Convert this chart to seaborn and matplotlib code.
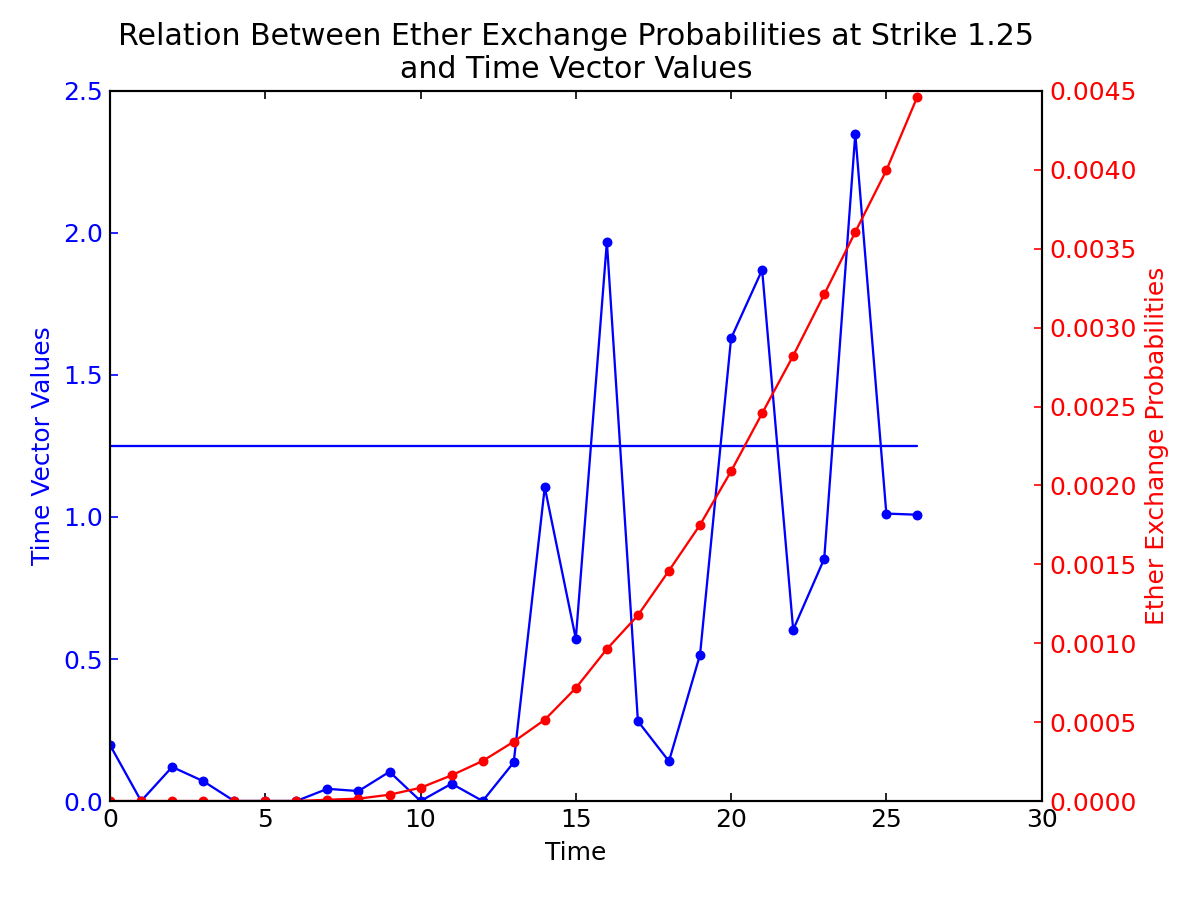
import numpy as np
import pandas as pd
import matplotlib
matplotlib.use('Agg')
import matplotlib.pyplot as plt
import seaborn as sns

# Data
time = list(range(27))
time_vector = [0.197, 0.0, 0.12, 0.07, 0.0, 0.0, 0.0, 0.043, 0.035, 0.103,
               0.0, 0.061, 0.0, 0.136, 1.105, 0.571, 1.969, 0.281, 0.14, 0.515,
               1.629, 1.870, 0.603, 0.853, 2.349, 1.012, 1.008]
ether_prob = [0.0, 0.0, 0.0, 0.0, 0.0, 0.0, 0.0, 0.000008, 0.000015, 0.00004,
              0.000084, 0.000163, 0.000254, 0.000376, 0.000515, 0.000716, 0.000963,
              0.001177, 0.00146, 0.00175, 0.00209, 0.002457, 0.002822, 0.003211,
              0.003606, 0.003997, 0.004464]
STRIKE = 1.25

df = pd.DataFrame({'time': time, 'vec': time_vector, 'prob': ether_prob})
strike_df = pd.DataFrame({'time': [time[0], time[-1]], 'strike': [STRIKE, STRIKE]})

sns.set_style('ticks')
plt.rcParams['font.family'] = ['DejaVu Sans']
plt.rcParams['text.color'] = 'black'
plt.rcParams['axes.labelcolor'] = 'black'
plt.rcParams['xtick.color'] = 'black'
plt.rcParams['ytick.color'] = 'black'
plt.rcParams['xtick.direction'] = 'in'
plt.rcParams['ytick.direction'] = 'in'

fig, ax = plt.subplots(figsize=(8, 5.98), dpi=150)
fig.subplots_adjust(left=0.0917, right=0.868, bottom=0.107, top=0.8986)

sns.lineplot(data=df, x='time', y='vec', ax=ax, color='blue', marker='o',
             markersize=4, markeredgecolor='blue', linewidth=1.1)
sns.lineplot(data=strike_df, x='time', y='strike', ax=ax, color='blue', linewidth=1.1)
ax.set_xlim(0, 30)
ax.set_ylim(0, 2.5)
ax.set_xticks(np.arange(0, 31, 5))
ax.set_yticks(np.arange(0, 2.51, 0.5))
ax.set_xlabel('Time', fontsize=12, color='black')
ax.set_ylabel('Time Vector Values', color='blue', fontsize=12)
ax.tick_params(axis='y', colors='blue', labelsize=12, length=4)
ax.tick_params(axis='x', labelsize=12, top=True, length=4, colors='black')
for s in ax.spines.values():
    s.set_linewidth(1.0)
    s.set_color('black')

ax2 = ax.twinx()
sns.lineplot(data=df, x='time', y='prob', ax=ax2, color='red', marker='o',
             markersize=4, markeredgecolor='red', linewidth=1.1)
ax2.set_ylim(0, 0.0045)
ax2.set_yticks(np.arange(0, 0.00451, 0.0005))
ax2.set_yticklabels([f'{v:.4f}' for v in np.arange(0, 0.00451, 0.0005)])
ax2.set_ylabel('Ether Exchange Probabilities', color='red', fontsize=12)
ax2.tick_params(axis='y', colors='red', labelsize=12, length=4, direction='in')
for s in ax2.spines.values():
    s.set_linewidth(1.0)
    s.set_color('black')

ax.set_title('Relation Between Ether Exchange Probabilities at Strike 1.25\nand Time Vector Values',
             fontsize=14.4, color='black')

plt.savefig('out.png', dpi=150)
